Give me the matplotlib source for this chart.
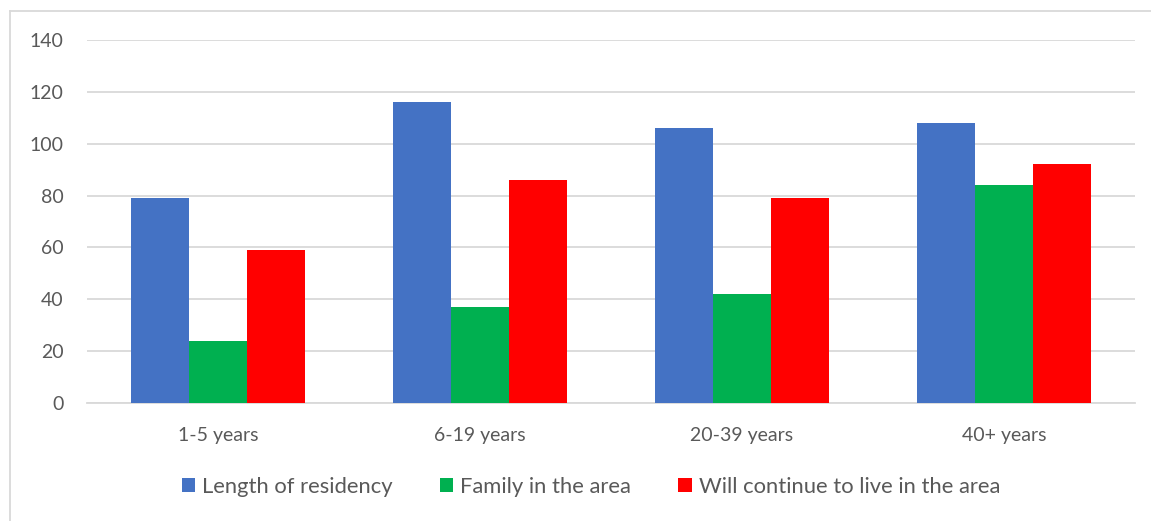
import matplotlib.pyplot as plt
from matplotlib.lines import Line2D
import numpy as np

plt.rcParams['font.family'] = ['Lato', 'DejaVu Sans']

categories = ["1-5 years", "6-19 years", "20-39 years", "40+ years"]
residency = [79, 116, 106, 108]
family = [24, 37, 42, 84]
will_stay = [59, 86, 79, 92]

series = [
    ("Length of residency", residency, "#4472c4"),
    ("Family in the area", family, "#00b050"),
    ("Will continue to live in the area", will_stay, "#ff0000"),
]

W, H = 1151, 521
fig = plt.figure(figsize=(W / 100, H / 100), dpi=100)
ax = fig.add_axes([87 / W, 1 - 403 / H, 1048 / W, 363 / H])

x = np.arange(len(categories))
bw = 0.222
for i, (name, vals, col) in enumerate(series):
    ax.bar(x + (i - 1) * bw, vals, bw, color=col, label=name, zorder=3)

ax.set_xlim(-0.5, len(categories) - 0.5)
ax.set_ylim(0, 140)
ax.set_yticks(range(0, 141, 20))
ax.set_xticks(x)
ax.set_xticklabels(categories)
ax.grid(axis='y', color='#d9d9d9', lw=1.3, zorder=0)
for s in ['top', 'right', 'left']:
    ax.spines[s].set_visible(False)
ax.spines['bottom'].set_color('#d9d9d9')
ax.spines['bottom'].set_linewidth(1.3)
ax.tick_params(axis='both', length=0, labelsize=14, colors='#595959')
ax.tick_params(axis='y', pad=17)
ax.tick_params(axis='x', pad=17)

fig.legend(loc='center', bbox_to_anchor=(591 / W, 1 - 487 / H), ncol=3, frameon=False,
           fontsize=15.8, labelcolor='#595959', handlelength=0.6, handleheight=0.6,
           handletextpad=0.32, columnspacing=2.15)

# chart border (only top and left edges visible)
fig.add_artist(Line2D([10 / W, 1], [1 - 11 / H, 1 - 11 / H], color='#d9d9d9', lw=1.3))
fig.add_artist(Line2D([10 / W, 10 / W], [0, 1 - 11 / H], color='#d9d9d9', lw=1.3))

fig.savefig("out.png", dpi=100)
